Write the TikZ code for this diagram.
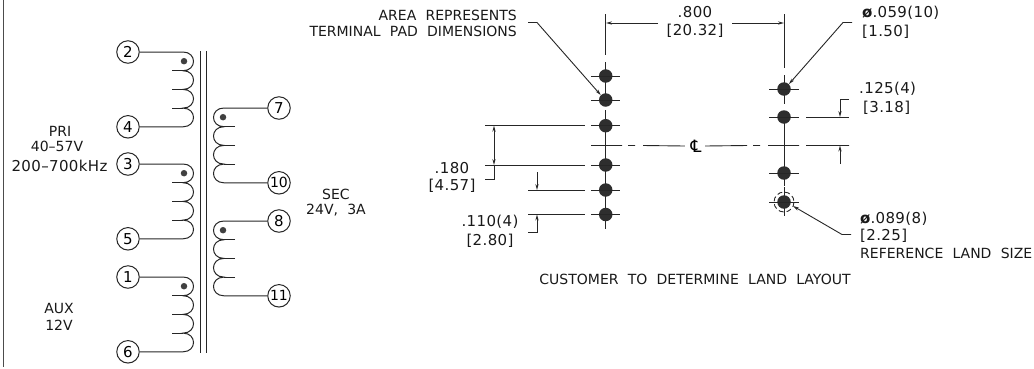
\documentclass[tikz,border=0pt]{standalone}
\usepackage{fontspec}
\setmainfont{DejaVu Sans}
\newfontfamily\clfont{DejaVu Sans}
\usetikzlibrary{arrows.meta}
\tikzset{
  ink/.style={line width=1pt,draw=black!85},
  thinl/.style={line width=0.9pt,draw=black!85},
  term/.style={circle,draw=black!85,line width=1pt,minimum size=22.5pt,inner sep=0pt,font=\fontsize{15}{15}\selectfont},
  lab/.style={inner sep=0pt,font=\fontsize{14}{14}\selectfont,text=black!90},
  labn/.style={lab,font=\fontsize{15}{15}\selectfont\addfontfeatures{LetterSpace=2.5}},
  dotm/.style={circle,fill=black!75,minimum size=6.5pt,inner sep=0pt},
  pad/.style={circle,fill=black!82,minimum size=13.5pt,inner sep=0pt},
  arr/.style={-{Stealth[length=6pt,width=3.2pt]},thinl}
}
\newcommand{\hsp}{\hspace{0.66em}}
\newcommand{\coilR}[3]{% a b y0
  \node[term] (t#1) at (128,#3) {#1};
  \pgfmathsetmacro{\ya}{#3+18.7}\pgfmathsetmacro{\yb}{#3+37.4}\pgfmathsetmacro{\yc}{#3+56.1}\pgfmathsetmacro{\yd}{#3+74.8}
  \node[term] (t#2) at (128,\yd) {#2};
  \draw[ink] (t#1.east) -- (183,#3) .. controls (197,#3) and (197,\ya) .. (183,\ya)
     .. controls (197,\ya) and (197,\yb) .. (183,\yb)
     .. controls (197,\yb) and (197,\yc) .. (183,\yc)
     .. controls (197,\yc) and (197,\yd) .. (183,\yd) -- (t#2.east);
  \draw[ink] (172,\ya) -- (183,\ya) (172,\yb) -- (183,\yb) (172,\yc) -- (183,\yc);
  \node[dotm] (d#1) at (184,#3+9.2) {};
}
\newcommand{\coilL}[3]{% a b y0
  \node[term] (t#1) at (279,#3) {#1};
  \pgfmathsetmacro{\ya}{#3+18.7}\pgfmathsetmacro{\yb}{#3+37.4}\pgfmathsetmacro{\yc}{#3+56.1}\pgfmathsetmacro{\yd}{#3+74.8}
  \node[term] (t#2) at (279,\yd) {\fontsize{14}{14}\selectfont #2};
  \draw[ink] (t#1.west) -- (224,#3) .. controls (210,#3) and (210,\ya) .. (224,\ya)
     .. controls (210,\ya) and (210,\yb) .. (224,\yb)
     .. controls (210,\yb) and (210,\yc) .. (224,\yc)
     .. controls (210,\yc) and (210,\yd) .. (224,\yd) -- (t#2.west);
  \draw[ink] (235,\ya) -- (224,\ya) (235,\yb) -- (224,\yb) (235,\yc) -- (224,\yc);
  \node[dotm] (d#1) at (223,#3+9.2) {};
}
\newcommand{\padL}[2]{%
  \node[pad] (#1) at (605.7,#2) {};
  \draw[thinl] (591,#2) -- (620,#2);
}
\newcommand{\padR}[2]{%
  \node[pad] (#1) at (784,#2) {};
  \draw[thinl] (769,#2) -- (799,#2);
}
\begin{document}
\begin{tikzpicture}[x=1pt,y=-1pt]
\useasboundingbox (0,0) rectangle (1034,368);
\draw[line width=1pt,draw=black!70] (3,0) -- (3,367);
% transformer
\coilR{2}{4}{52}
\coilR{3}{5}{164}
\coilR{1}{6}{277}
\coilL{7}{10}{108}
\coilL{8}{11}{221}
\draw[ink] (200.5,51) -- (200.5,353) (206.5,51) -- (206.5,353);
\node[lab] (pri1) at (60,131) {PRI};
\node[lab] (pri2) at (57,146.5) {40--57V};
\node[labn] (pri3) at (59.5,166) {200--700kHz};
\node[lab] (aux1) at (59,308) {AUX};
\node[lab] (aux2) at (59,325) {12V};
\node[lab] (sec1) at (336,194) {SEC};
\node[lab] (sec2) at (336,210) {24V,\hsp 3A};
% centre lines
\draw[thinl] (605.7,14) -- (605.7,55) (605.7,62) -- (605.7,105) (605.7,110) -- (605.7,229);
\draw[thinl] (784,14) -- (784,68) (784,75) -- (784,104) (784,111) -- (784,186) (784,187) -- (784,216);
% pads
\padL{a1}{76}\padL{a2}{100}\padL{a3}{125.7}\padL{a4}{165}\padL{a5}{190}\padL{a6}{214.5}
\padR{b1}{89}\padR{b2}{117}\padR{b3}{173}\padR{b4}{202}
\draw[thinl,dash pattern=on 5pt off 3pt] (b4) circle[radius=10];
% centreline
\node[inner sep=0pt,minimum width=20pt,font=\clfont\fontsize{17}{17}\selectfont] (cl) at (695,146) {\kern2pt\symbol{"2104}};
\draw[thinl] (591,145.5) -- (622,145.5) (628,145.5) -- (635,145.5) (643,145.5) -- (cl.west);
\draw[thinl] (cl.east) -- (747,145.5) (753,145.5) -- (760,145.5) (768,145.5) -- (799,145.5) (806,145.5) -- (849,145.5);
% .800
\node[labn] (d800a) at (695,12) {.800};
\node[labn] (d800b) at (695,31) {[20.32]};
\coordinate (l800) at (658,23); \coordinate (r800) at (732,23);
\draw[arr] (l800) -- (606,23);
\draw[arr] (r800) -- (784,23);
% area
\node[lab,anchor=east] (area1) at (517,15) {AREA\hsp REPRESENTS};
\node[lab,anchor=east] (area2) at (517,31.5) {TERMINAL\hsp PAD\hsp DIMENSIONS};
\draw[arr] (528,22.5) -- (537,22.5) -- (a2.135);
% .180
\draw[thinl] (485,125.7) -- (585,125.7) (485,165) -- (585,165);
\draw[thinl,{Stealth[length=6pt,width=3.2pt]}-{Stealth[length=6pt,width=3.2pt]}] (494,125.7) -- (494,165);
\draw[thinl] (494,165) -- (494,179) -- (485,179);
\node[labn] (d180a) at (452,168) {.180};
\node[labn] (d180b) at (452,186) {[4.57]};
% .110
\draw[thinl] (528,190) -- (585,190) (528,214.5) -- (585,214.5);
\draw[arr] (537,172) -- (537,190);
\draw[arr] (528,232) -- (537,232) -- (537,214.5);
\node[labn] (d110a) at (490,222) {.110(4)};
\node[labn] (d110b) at (490,241) {[2.80]};
% .059
\node[labn,anchor=west] (d059a) at (862,13) {\textbf{ø}.059(10)};
\node[labn,anchor=west] (d059b) at (862,32) {[1.50]};
\draw[arr] (852,22.5) -- (843,22.5) -- (b1.45);
% .125
\draw[thinl] (806,117) -- (849,117);
\draw[arr] (849,99) -- (840,99) -- (840,117);
\draw[arr] (840,164) -- (840,145.5);
\node[labn,anchor=west] (d125a) at (859,89) {.125(4)};
\node[labn,anchor=west] (d125b) at (863,108) {[3.18]};
% .089
\node[labn,anchor=west] (d089a) at (860,219) {\textbf{ø}.089(8)};
\node[labn,anchor=west] (d089b) at (860,236) {[2.25]};
\node[lab,anchor=west] (d089c) at (860,253) {REFERENCE\hsp LAND\hsp SIZE};
\draw[arr] (851,234.5) -- (842,234.5) -- (793,206);
\node[lab] (cust) at (695,279) {CUSTOMER\hsp TO\hsp DETERMINE\hsp LAND\hsp LAYOUT};
\end{tikzpicture}
\end{document}
